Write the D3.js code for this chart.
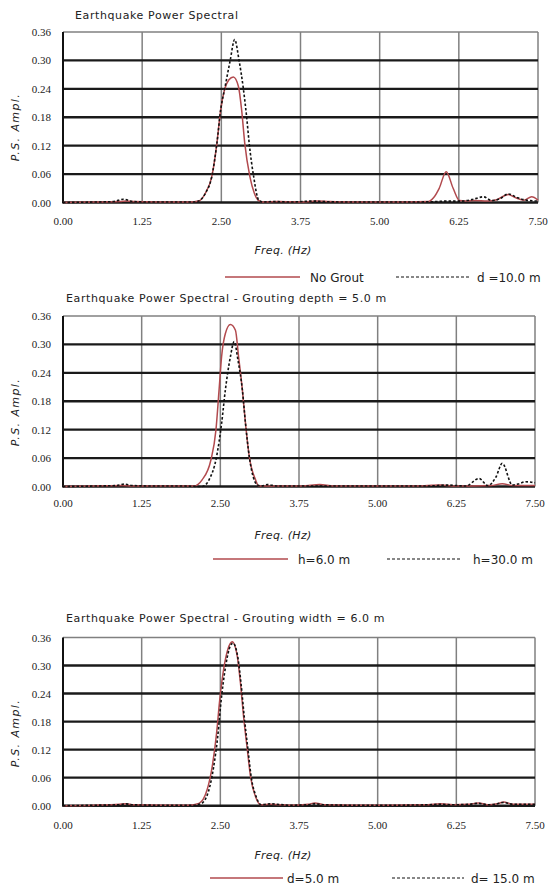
<!DOCTYPE html>
<html>
<head>
<meta charset="utf-8">
<script src="https://cdn.jsdelivr.net/npm/d3@7"></script>
<style>
  body { margin: 0; background: #fff; }
  svg { display: block; }
</style>
</head>
<body>
<svg id="chart" width="549" height="888"></svg>
<script>
// ---- data ----
let freq_ticks = [0, 1.25, 2.5, 3.75, 5, 6.25, 7.5];
let amp_ticks = [0, 0.06, 0.12, 0.18, 0.24, 0.30, 0.36];

let titles = [
  'Earthquake Power Spectral',
  'Earthquake Power Spectral - Grouting  depth = 5.0 m',
  'Earthquake Power Spectral - Grouting  width = 6.0 m'
];
let legend_solid = ['No Grout', 'h=6.0 m', 'd=5.0 m'];
let legend_dash = ['d =10.0 m', 'h=30.0 m', 'd= 15.0 m'];

// panel 1
let p1_solid_f = [0.00, 0.50, 0.90, 1.00, 1.10, 1.50, 2.00, 2.14, 2.25, 2.35, 2.43, 2.49, 2.55, 2.62, 2.69, 2.77, 2.82, 2.87, 2.95, 3.02, 3.08, 3.15, 3.40, 3.80, 4.00, 4.20, 4.60, 5.00, 5.40, 5.77, 5.85, 5.94, 6.05, 6.16, 6.26, 6.35, 6.50, 6.70, 6.85, 7.03, 7.15, 7.28, 7.40, 7.50];
let p1_solid_a = [0.000, 0.001, 0.002, 0.003, 0.002, 0.001, 0.001, 0.003, 0.020, 0.055, 0.125, 0.196, 0.238, 0.259, 0.265, 0.245, 0.196, 0.125, 0.055, 0.020, 0.005, 0.001, 0.002, 0.001, 0.003, 0.002, 0.001, 0.001, 0.001, 0.002, 0.010, 0.030, 0.065, 0.030, 0.004, 0.003, 0.004, 0.003, 0.006, 0.017, 0.010, 0.005, 0.012, 0.005];
let p1_dash_f = [0.00, 0.50, 0.80, 0.95, 1.10, 1.40, 1.80, 2.05, 2.14, 2.25, 2.35, 2.43, 2.49, 2.56, 2.64, 2.71, 2.78, 2.85, 2.90, 2.94, 3.01, 3.09, 3.16, 3.30, 3.60, 3.95, 4.10, 4.50, 5.00, 5.50, 5.90, 6.05, 6.30, 6.45, 6.64, 6.77, 6.90, 7.03, 7.18, 7.31, 7.50];
let p1_dash_a = [0.000, 0.001, 0.002, 0.007, 0.002, 0.001, 0.001, 0.001, 0.003, 0.020, 0.055, 0.125, 0.196, 0.245, 0.300, 0.344, 0.300, 0.238, 0.180, 0.125, 0.055, 0.005, 0.001, 0.002, 0.001, 0.003, 0.002, 0.001, 0.001, 0.001, 0.002, 0.003, 0.003, 0.006, 0.012, 0.004, 0.008, 0.018, 0.010, 0.005, 0.003];

// panel 2
let p2_solid_f = [0.00, 0.50, 0.95, 1.10, 1.50, 1.90, 2.08, 2.21, 2.35, 2.43, 2.48, 2.52, 2.58, 2.66, 2.74, 2.79, 2.85, 2.90, 2.96, 3.06, 3.11, 3.30, 3.80, 4.08, 4.30, 5.00, 5.60, 6.00, 6.20, 6.50, 6.80, 6.98, 7.15, 7.50];
let p2_solid_a = [0.000, 0.001, 0.002, 0.001, 0.001, 0.001, 0.001, 0.014, 0.056, 0.119, 0.204, 0.274, 0.323, 0.342, 0.330, 0.274, 0.204, 0.133, 0.063, 0.014, 0.001, 0.001, 0.001, 0.004, 0.001, 0.001, 0.001, 0.003, 0.001, 0.001, 0.002, 0.006, 0.002, 0.002];
let p2_dash_f = [0.00, 0.50, 0.85, 0.98, 1.10, 1.50, 1.90, 2.21, 2.32, 2.44, 2.52, 2.58, 2.66, 2.72, 2.78, 2.85, 2.90, 2.96, 3.09, 3.15, 3.25, 3.40, 4.00, 5.00, 5.80, 6.10, 6.40, 6.61, 6.75, 6.88, 6.98, 7.14, 7.25, 7.35, 7.50];
let p2_dash_a = [0.000, 0.001, 0.002, 0.005, 0.002, 0.001, 0.001, 0.000, 0.014, 0.063, 0.133, 0.204, 0.274, 0.306, 0.267, 0.204, 0.133, 0.063, 0.003, 0.001, 0.004, 0.001, 0.001, 0.001, 0.001, 0.003, 0.001, 0.017, 0.002, 0.020, 0.049, 0.003, 0.006, 0.010, 0.008];

// panel 3
let p3_solid_f = [0.00, 0.50, 0.90, 1.00, 1.10, 1.60, 2.00, 2.16, 2.29, 2.37, 2.44, 2.49, 2.56, 2.62, 2.69, 2.77, 2.82, 2.87, 2.93, 2.98, 3.06, 3.14, 3.30, 3.60, 3.90, 4.00, 4.15, 4.60, 5.20, 5.80, 6.00, 6.20, 6.45, 6.60, 6.75, 6.90, 7.00, 7.15, 7.50];
let p3_solid_a = [0.000, 0.001, 0.003, 0.004, 0.002, 0.001, 0.001, 0.005, 0.034, 0.083, 0.155, 0.226, 0.298, 0.335, 0.351, 0.319, 0.262, 0.190, 0.119, 0.062, 0.019, 0.002, 0.003, 0.001, 0.003, 0.006, 0.002, 0.001, 0.001, 0.002, 0.004, 0.002, 0.003, 0.006, 0.002, 0.004, 0.008, 0.003, 0.003];
let p3_dash_f = [0.00, 0.50, 0.90, 1.00, 1.10, 1.60, 2.05, 2.19, 2.31, 2.39, 2.46, 2.51, 2.58, 2.64, 2.70, 2.78, 2.83, 2.88, 2.94, 2.99, 3.07, 3.15, 3.30, 3.60, 3.90, 4.00, 4.15, 4.60, 5.20, 5.80, 6.00, 6.20, 6.45, 6.60, 6.75, 6.90, 7.00, 7.15, 7.50];
let p3_dash_a = [0.000, 0.001, 0.002, 0.004, 0.002, 0.001, 0.001, 0.004, 0.030, 0.080, 0.150, 0.222, 0.295, 0.335, 0.348, 0.316, 0.260, 0.190, 0.119, 0.062, 0.019, 0.002, 0.004, 0.001, 0.002, 0.004, 0.002, 0.001, 0.001, 0.002, 0.003, 0.002, 0.003, 0.005, 0.002, 0.004, 0.007, 0.003, 0.003];

let series = [
  [p1_solid_f, p1_solid_a, p1_dash_f, p1_dash_a],
  [p2_solid_f, p2_solid_a, p2_dash_f, p2_dash_a],
  [p3_solid_f, p3_solid_a, p3_dash_f, p3_dash_a]
];

// ---- layout (pixel boxes of each panel) ----
let panels = [
  {left: 63, right: 538, top: 32, bottom: 202.5, title_x: 75, title_y: 19, tick_y: 225, freq_y: 254, ylab_y: 127,
   leg_y: 277, solid_x: [225, 300], solid_tx: 310, dash_x: [396, 470], dash_tx: 477, clip: 283},
  {left: 63, right: 535, top: 316, bottom: 486.5, title_x: 66, title_y: 302, tick_y: 507, freq_y: 539, ylab_y: 412,
   leg_y: 559, solid_x: [213, 288], solid_tx: 298, dash_x: [387, 462], dash_tx: 473, clip: 575},
  {left: 63, right: 535, top: 637.5, bottom: 805.7, title_x: 66, title_y: 622, tick_y: 829, freq_y: 859, ylab_y: 733,
   leg_y: 878, solid_x: [210, 283], solid_tx: 287, dash_x: [392, 464], dash_tx: 471, clip: 888}
];

let red = '#b24a4e';
let tick_font = '"Liberation Serif", serif';
let sans = '"DejaVu Sans", Verdana, sans-serif';

let svg = d3.select('#chart');
let defs = svg.append('defs');

panels.forEach((p, i) => {
  let x = d3.scaleLinear().domain([0, 7.5]).range([p.left, p.right]);
  let y = d3.scaleLinear().domain([0, 0.36]).range([p.bottom, p.top]);
  let g = svg.append('g').attr('class', 'panel');

  // title
  g.append('text')
    .attr('x', p.title_x)
    .attr('y', p.title_y)
    .style('font-family', sans)
    .style('font-size', '11px')
    .style('letter-spacing', '0.6px')
    .style('fill', '#222')
    .text(titles[i]);

  // vertical grid (grey)
  g.selectAll('.vgrid')
    .data(freq_ticks.slice(1))
    .enter().append('line')
    .attr('class', 'vgrid')
    .attr('x1', d => x(d)).attr('x2', d => x(d))
    .attr('y1', p.top).attr('y2', p.bottom)
    .attr('stroke', '#808080')
    .attr('stroke-width', 1.5);

  // top border, grey
  g.append('line')
    .attr('x1', p.left).attr('x2', p.right)
    .attr('y1', p.top).attr('y2', p.top)
    .attr('stroke', '#808080')
    .attr('stroke-width', 1.5);

  // horizontal grid (black, heavy)
  g.selectAll('.hgrid')
    .data(amp_ticks.slice(0, -1))
    .enter().append('line')
    .attr('class', 'hgrid')
    .attr('x1', p.left).attr('x2', p.right)
    .attr('y1', d => y(d)).attr('y2', d => y(d))
    .attr('stroke', '#1a1a1a')
    .attr('stroke-width', 2.4);

  // left axis line
  g.append('line')
    .attr('x1', p.left).attr('x2', p.left)
    .attr('y1', p.top).attr('y2', p.bottom + 1)
    .attr('stroke', '#111')
    .attr('stroke-width', 2);

  // y axis ticks
  let y_axis = d3.axisLeft(y).tickValues(amp_ticks).tickSize(0).tickPadding(12)
    .tickFormat(d3.format('.2f'));
  let ya = g.append('g').attr('transform', `translate(${p.left},0)`).call(y_axis);
  ya.select('.domain').remove();
  ya.selectAll('text')
    .style('font-family', tick_font)
    .style('font-size', '11px')
    .style('fill', '#222');

  // x axis ticks
  g.selectAll('.xtick')
    .data(freq_ticks)
    .enter().append('text')
    .attr('class', 'xtick')
    .attr('x', d => x(d))
    .attr('y', p.tick_y)
    .style('text-anchor', 'middle')
    .style('font-family', tick_font)
    .style('font-size', '11px')
    .style('fill', '#222')
    .text(d => d3.format('.2f')(d));

  // axis titles
  g.append('text')
    .attr('x', 283)
    .attr('y', p.freq_y)
    .style('text-anchor', 'middle')
    .style('font-family', sans)
    .style('font-style', 'italic')
    .style('font-size', '11px')
    .style('letter-spacing', '0.3px')
    .style('fill', '#222')
    .text('Freq. (Hz)');

  g.append('text')
    .attr('transform', `translate(19,${p.ylab_y}) rotate(-90)`)
    .style('text-anchor', 'middle')
    .style('font-family', sans)
    .style('font-style', 'italic')
    .style('font-size', '11px')
    .style('letter-spacing', '1.4px')
    .style('fill', '#222')
    .text('P.S. Ampl.');

  // curves
  let s = series[i];
  let line = d3.line()
    .x(d => x(d[0]))
    .y(d => y(d[1]))
    .curve(d3.curveMonotoneX);

  g.append('path')
    .datum(d3.zip(s[0], s[1]))
    .attr('d', line)
    .attr('fill', 'none')
    .attr('stroke', red)
    .attr('stroke-width', 1.5);

  g.append('path')
    .datum(d3.zip(s[2], s[3]))
    .attr('d', line)
    .attr('fill', 'none')
    .attr('stroke', '#111')
    .attr('stroke-width', 1.6)
    .attr('stroke-dasharray', '2.5,2');

  // legend
  defs.append('clipPath').attr('id', `leg-clip-${i}`)
    .append('rect')
    .attr('x', 0).attr('y', p.leg_y - 20)
    .attr('width', 549).attr('height', p.clip - (p.leg_y - 20));

  let leg = g.append('g').attr('clip-path', `url(#leg-clip-${i})`);
  leg.append('line')
    .attr('x1', p.solid_x[0]).attr('x2', p.solid_x[1])
    .attr('y1', p.leg_y).attr('y2', p.leg_y)
    .attr('stroke', red)
    .attr('stroke-width', 1.5);
  leg.append('text')
    .attr('x', p.solid_tx)
    .attr('y', p.leg_y + 5)
    .style('font-family', sans)
    .style('font-size', '12px')
    .style('fill', '#222')
    .text(legend_solid[i]);
  leg.append('line')
    .attr('x1', p.dash_x[0]).attr('x2', p.dash_x[1])
    .attr('y1', p.leg_y).attr('y2', p.leg_y)
    .attr('stroke', '#111')
    .attr('stroke-width', 1.2)
    .attr('stroke-dasharray', '3,2');
  leg.append('text')
    .attr('x', p.dash_tx)
    .attr('y', p.leg_y + 5)
    .style('font-family', sans)
    .style('font-size', '12px')
    .style('fill', '#222')
    .text(legend_dash[i]);
});
</script>
</body>
</html>
